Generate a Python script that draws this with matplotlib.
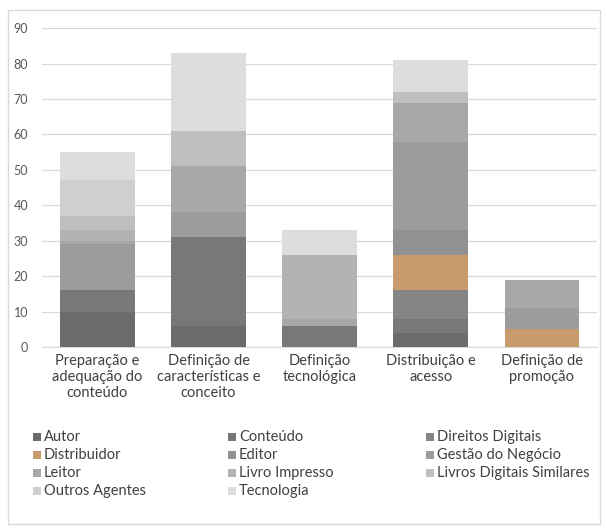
import matplotlib
matplotlib.use("Agg")
import matplotlib.pyplot as plt
from matplotlib.patches import Rectangle
import numpy as np

plt.rcParams['font.family'] = ['Lato', 'DejaVu Sans']

categories = ["Preparação e\nadequação do\nconteúdo",
              "Definição de\ncaracterísticas e\nconceito",
              "Definição\ntecnológica",
              "Distribuição e\nacesso",
              "Definição de\npromoção"]

series_names = ["Autor", "Conteúdo", "Direitos Digitais", "Distribuidor", "Editor",
                "Gestão do Negócio", "Leitor", "Livro Impresso",
                "Livros Digitais Similares", "Outros Agentes", "Tecnologia"]

autor = [10, 6, 0, 4, 0]
conteudo = [6, 25, 6, 4, 0]
direitos_digitais = [0, 0, 0, 8, 0]
distribuidor = [0, 0, 0, 10, 5]
editor = [0, 0, 0, 7, 0]
gestao_negocio = [13, 7, 0, 25, 6]
leitor = [1, 13, 2, 11, 8]
livro_impresso = [3, 0, 18, 0, 0]
livros_digitais_similares = [4, 10, 0, 3, 0]
outros_agentes = [10, 0, 0, 0, 0]
tecnologia = [8, 22, 7, 9, 0]

series_values = [autor, conteudo, direitos_digitais, distribuidor, editor,
                 gestao_negocio, leitor, livro_impresso,
                 livros_digitais_similares, outros_agentes, tecnologia]

colors = ["#6b6b6b", "#787878", "#858585", "#c99a6b", "#919191",
          "#9c9c9c", "#a8a8a8", "#b3b3b3", "#bfbfbf", "#cfcfcf", "#dddddd"]

yticks = [0, 10, 20, 30, 40, 50, 60, 70, 80, 90]

fig = plt.figure(figsize=(6.07, 5.31), dpi=100)
ax = fig.add_axes([0.069, 0.3465, 0.915, 0.6005])

x = np.arange(len(categories))
bottom = np.zeros(len(categories))
for vals, col in zip(series_values, colors):
    v = np.array(vals, dtype=float)
    ax.bar(x, v, bottom=bottom, width=0.67, color=col, linewidth=0, zorder=3)
    bottom += v

ax.set_xlim(-0.5, len(categories) - 0.5)
ax.set_ylim(0, 90)
ax.set_yticks(yticks)
ax.set_yticklabels([str(t) for t in yticks], fontsize=9, color="#595959")
ax.set_xticks(x)
ax.set_xticklabels(categories, fontsize=10.5, color="#404040", linespacing=1.2)
ax.tick_params(axis='both', length=0)
ax.tick_params(axis='y', pad=10)
ax.tick_params(axis='x', pad=5)
ax.grid(axis='y', color="#d9d9d9", linewidth=0.9, zorder=0)
for s in ["top", "right", "left"]:
    ax.spines[s].set_visible(False)
ax.spines["bottom"].set_color("#d9d9d9")

# legend laid out row by row in three columns
col_x = [33, 228, 426]
row_y = [437, 455, 473, 491]
W, H = 607.0, 531.0
for i, (name, col) in enumerate(zip(series_names, colors)):
    r, c = divmod(i, 3)
    px = col_x[c]
    py = row_y[r]
    fig.patches.append(Rectangle((px / W, 1 - (py + 4) / H), 8 / W, 8 / H,
                                 transform=fig.transFigure, facecolor=col,
                                 edgecolor="none"))
    fig.text((px + 11) / W, 1 - py / H, name, fontsize=10.5, color="#404040",
             va="center", ha="left")

# outer frame
fig.patches.append(Rectangle((8 / W, 1 - 524 / H), 592 / W, 514 / H,
                             transform=fig.transFigure, facecolor="none",
                             edgecolor="#d9d9d9", linewidth=1))

fig.savefig("out.png", dpi=100)
